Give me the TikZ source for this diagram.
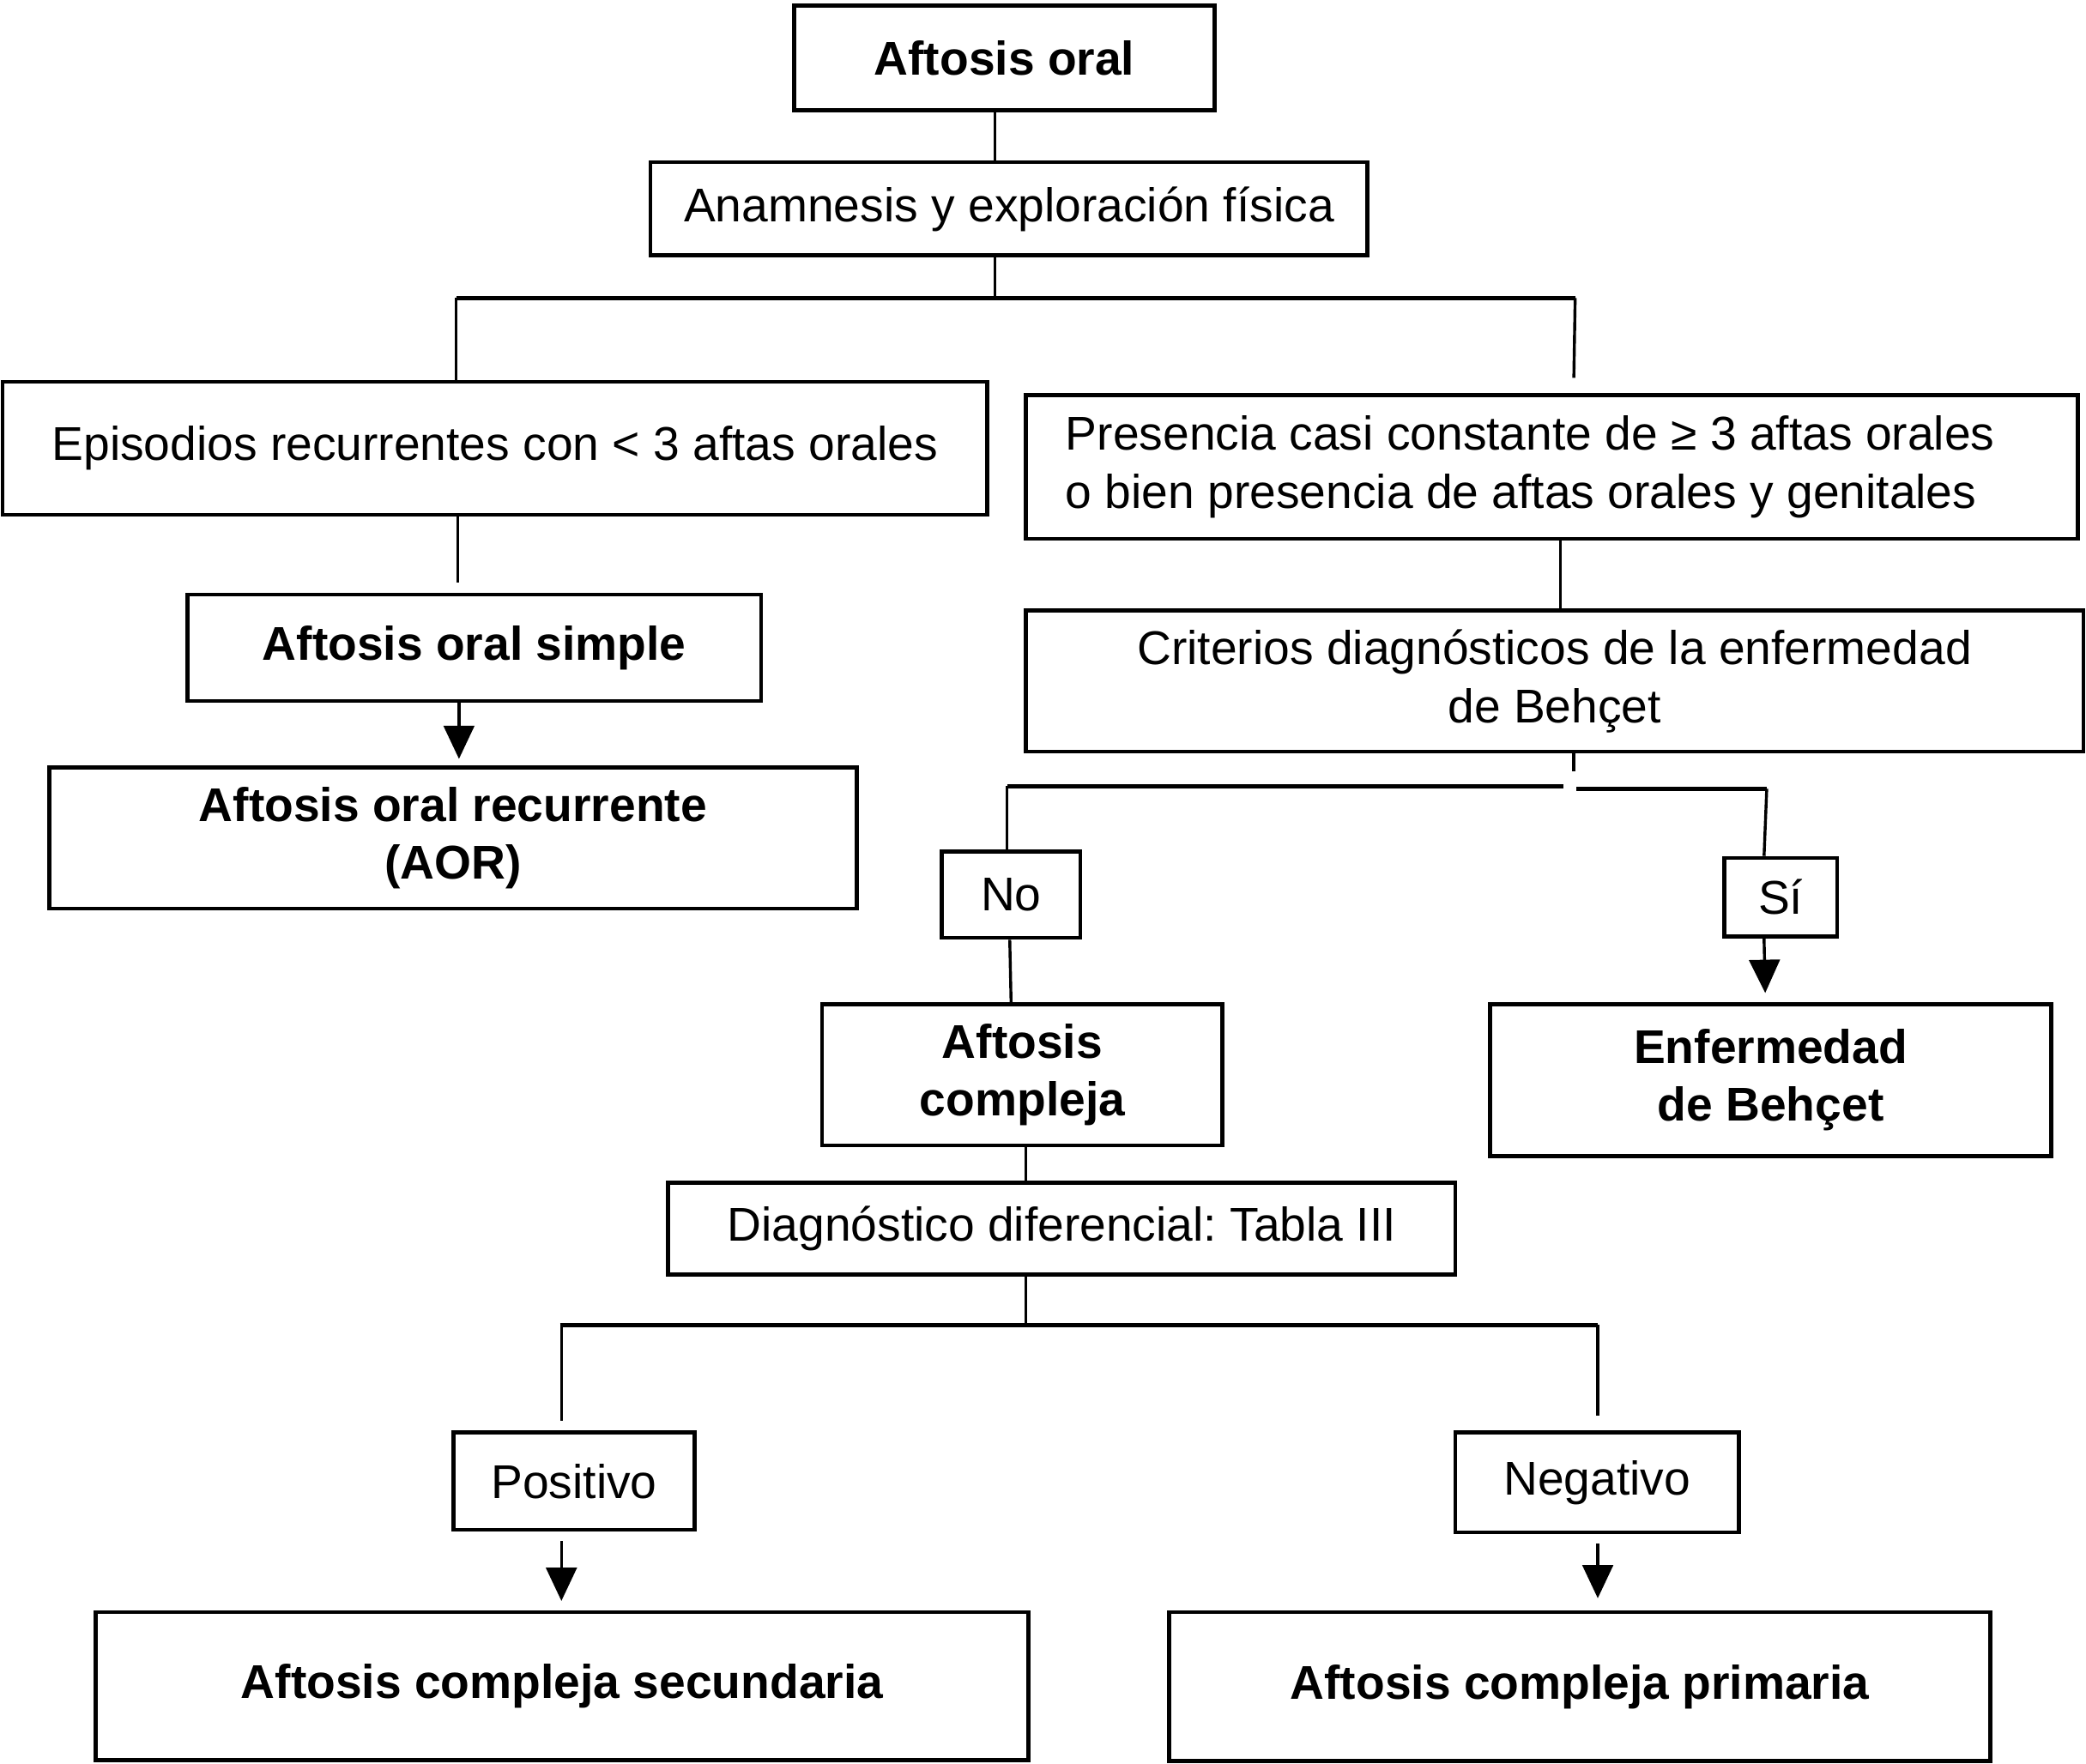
\documentclass[tikz,border=0pt]{standalone}
\usepackage{fontspec}
\setmainfont{Liberation Sans}
\usetikzlibrary{arrows.meta}
\frenchspacing
\newcommand\myfs{\fontsize{35.6}{43.5}\selectfont}
\tikzset{
  box/.style={draw, line width=3pt, inner sep=0pt, align=center, font=\myfs},
  bbox/.style={box, font=\myfs\bfseries},
  conn/.style={line width=2.2pt},
  bus/.style={line width=3.4pt},
  arr/.style={conn, -{Triangle[length=25pt,width=23pt]}}
}
\begin{document}
\begin{tikzpicture}[x=1pt,y=-1pt]
\useasboundingbox (0,0) rectangle (1568,1326);
% boxes
\node[bbox, minimum width=316pt, minimum height=79pt] (ao) at (755,43.5) {Aftosis oral};
\node[box, minimum width=539pt, minimum height=70pt] (anam) at (758.5,157) {Anamnesis y exploración física};
\node[box, minimum width=740pt, minimum height=100pt] (epis) at (372,337) {Episodios recurrentes con < 3 aftas orales};
\node[box, minimum width=791pt, minimum height=108pt, text width=731pt, align=flush left] (pres) at (1166.5,351) {Presencia casi constante de ≥ 3 aftas orales\\o bien presencia de aftas orales y genitales};
\node[bbox, minimum width=431pt, minimum height=80pt] (simple) at (356.5,487) {Aftosis oral simple};
\node[bbox, minimum width=607pt, minimum height=106pt] (aor) at (340.5,630) {Aftosis oral recurrente\\(AOR)};
\node[box, minimum width=795pt, minimum height=106pt] (crit) at (1168.5,512) {Criterios diagnósticos de la enfermedad\\de Behçet};
\node[box, minimum width=104pt, minimum height=65pt] (no) at (760,672.5) {No};
\node[box, minimum width=85pt, minimum height=59pt] (si) at (1338.5,674.5) {Sí};
\node[bbox, minimum width=301pt, minimum height=106pt] (comp) at (768.5,808) {Aftosis\\compleja};
\node[bbox, minimum width=422pt, minimum height=114pt] (beh) at (1331,812) {Enfermedad\\de Behçet};
\node[box, minimum width=592pt, minimum height=69pt] (dd) at (798,923.5) {Diagnóstico diferencial: Tabla III};
\node[box, minimum width=181pt, minimum height=73pt] (pos) at (431.5,1113.5) {Positivo};
\node[box, minimum width=213pt, minimum height=75pt] (neg) at (1200.5,1114.5) {Negativo};
\node[bbox, minimum width=701pt, minimum height=111pt] (sec) at (422.5,1267.5) {Aftosis compleja secundaria};
\node[bbox, minimum width=617pt, minimum height=112pt] (prim) at (1187.5,1268) {Aftosis compleja primaria};
% junction coordinates
\coordinate (b1m) at (748,224);
\coordinate (b1l) at (343,224);
\coordinate (b1r) at (1184,224);
\coordinate (r1e) at (1183,284);
\coordinate (l2e) at (344,438);
\coordinate (c2e) at (1183,580);
\coordinate (b2l) at (757,591);
\coordinate (b2lm) at (1175,591);
\coordinate (b2rm) at (1185,593);
\coordinate (b2r) at (1328,593);
\coordinate (b3m) at (771,996);
\coordinate (b3l) at (421,996);
\coordinate (b3r) at (1201,996);
\coordinate (p3e) at (422,1068);
\coordinate (n3e) at (1201,1064);
% connectors
\draw[conn] (ao.south -| 748,0) -- (anam.north -| 748,0);
\draw[conn] (anam.south -| 748,0) -- (b1m);
\draw[bus] (b1l) -- (b1r);
\draw[conn] (b1l) -- (epis.north -| b1l);
\draw[conn] (b1r) -- (r1e);
\draw[conn] (epis.south -| 344,0) -- (l2e);
\draw[arr, shorten >=5pt] (simple.south -| 345,0) -- (aor.north -| 345,0);
\draw[conn] (pres.south -| 1173,0) -- (crit.north -| 1173,0);
\draw[conn] (crit.south -| 1183,0) -- (c2e);
\draw[bus] (b2l) -- (b2lm);
\draw[bus] (b2rm) -- (b2r);
\draw[conn] (b2l) -- (no.north -| b2l);
\draw[conn] (b2r) -- (si.north -| 1326,0);
\draw[conn] (no.south -| 759,0) -- (comp.north -| 760,0);
\draw[arr, shorten >=7pt] (si.south -| 1326,0) -- (beh.north -| 1327,0);
\draw[conn] (comp.south -| 771,0) -- (dd.north -| 771,0);
\draw[conn] (dd.south -| 771,0) -- (b3m);
\draw[bus] (b3l) -- (b3r);
\draw[conn] (b3l -| p3e) -- (p3e);
\draw[conn] (b3r) -- (n3e);
\draw[arr, shorten <=7pt, shorten >=7pt] (pos.south -| 422,0) -- (sec.north -| 422,0);
\draw[arr, shorten <=7pt, shorten >=9pt] (neg.south -| 1201,0) -- (prim.north -| 1201,0);
\end{tikzpicture}
\end{document}
